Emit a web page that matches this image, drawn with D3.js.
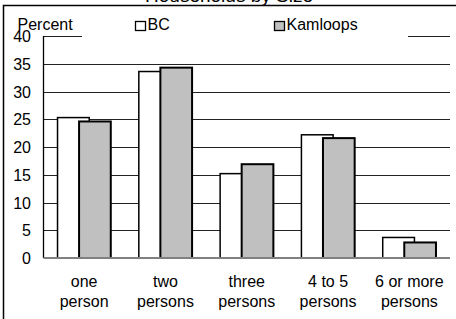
<!DOCTYPE html>
<html>
<head>
<meta charset="utf-8">
<script src="https://cdn.jsdelivr.net/npm/d3@7"></script>
<style>
  body { margin: 0; background: #fff; }
  svg { display: block; font-family: "Liberation Sans", Arial, sans-serif; }
</style>
</head>
<body>
<div id="chart"></div>
<script>
// data
const categories = [["one", "person"], ["two", "persons"], ["three", "persons"], ["4 to 5", "persons"], ["6 or more", "persons"]];
const bcValues = [25.3, 33.6, 15.2, 22.2, 3.7];
const kamloopsValues = [24.6, 34.3, 16.9, 21.6, 2.8];
const yTicks = [0, 5, 10, 15, 20, 25, 30, 35, 40];
const seriesNames = ["BC", "Kamloops"];
const seriesColors = ["#ffffff", "#c0c0c0"];

const w = 456, h = 319;
const plotLeft = 43.5, plotRight = 450, plotTop = 36, plotBottom = 258;

const svg = d3.select("#chart").append("svg")
  .attr("width", w)
  .attr("height", h);

// outer frame, runs past the picture edge
svg.append("rect")
  .attr("x", 3.5).attr("y", 5.5)
  .attr("width", 470).attr("height", 340)
  .attr("fill", "none")
  .attr("stroke", "#000")
  .attr("stroke-width", 1.5);

svg.append("text")
  .attr("x", 229).attr("y", 2)
  .attr("text-anchor", "middle")
  .style("font-size", "19px")
  .text("Households by Size");

const x = d3.scaleBand()
  .domain(d3.range(categories.length))
  .range([plotLeft, plotRight]);

const y = d3.scaleLinear()
  .domain([0, 40])
  .range([plotBottom, plotTop]);

// gridlines
svg.append("g")
  .selectAll("line")
  .data(yTicks.filter(d => d > 0))
  .enter()
  .append("line")
  .attr("x1", plotLeft).attr("x2", plotRight)
  .attr("y1", d => Math.round(y(d)) + 0.5)
  .attr("y2", d => Math.round(y(d)) + 0.5)
  .attr("stroke", "#222")
  .attr("stroke-width", 1);

// y tick labels
svg.append("g")
  .selectAll("text")
  .data(yTicks)
  .enter()
  .append("text")
  .attr("x", 31)
  .attr("y", d => y(d) + 6)
  .attr("text-anchor", "end")
  .style("font-size", "16px")
  .text(d => d);

// bars, Kamloops drawn over BC
const bw = x.bandwidth();
const barW = bw * 0.39;
const shift = bw * 0.265;
const series = [bcValues, kamloopsValues];

series.forEach((vals, s) => {
  svg.append("g")
    .selectAll("rect")
    .data(vals)
    .enter()
    .append("rect")
    .attr("x", (d, i) => x(i) + bw / 2 - (barW + shift) / 2 + s * shift)
    .attr("y", d => y(d))
    .attr("width", barW)
    .attr("height", d => plotBottom - y(d))
    .attr("fill", seriesColors[s])
    .attr("stroke", "#000")
    .attr("stroke-width", s == 0 ? 1.5 : 2);
});

// axis lines
svg.append("line")
  .attr("x1", plotLeft).attr("x2", plotLeft)
  .attr("y1", plotTop).attr("y2", plotBottom)
  .attr("stroke", "#000")
  .attr("stroke-width", 1.3);

svg.append("line")
  .attr("x1", plotLeft).attr("x2", plotRight)
  .attr("y1", plotBottom).attr("y2", plotBottom)
  .attr("stroke", "#808080")
  .attr("stroke-width", 2);

// category labels
const xl = svg.append("g")
  .selectAll("text")
  .data(categories)
  .enter()
  .append("text")
  .attr("text-anchor", "middle")
  .style("font-size", "16px");
xl.append("tspan")
  .attr("x", (d, i) => x(i) + bw / 2)
  .attr("y", 287)
  .text(d => d[0]);
xl.append("tspan")
  .attr("x", (d, i) => x(i) + bw / 2)
  .attr("y", 307)
  .text(d => d[1]);

// legend panel hides the top gridline
svg.append("rect")
  .attr("x", 82).attr("y", 14)
  .attr("width", 326).attr("height", 24)
  .attr("fill", "#fff");

const legendX = [135, 274];
seriesNames.forEach((name, s) => {
  svg.append("rect")
    .attr("x", legendX[s] + 0.5).attr("y", 21.5)
    .attr("width", 10).attr("height", 9)
    .attr("fill", seriesColors[s])
    .attr("stroke", "#000")
    .attr("stroke-width", 1.3);
  svg.append("text")
    .attr("x", legendX[s] + 12.5)
    .attr("y", 30)
    .style("font-size", "16px")
    .text(name);
});

svg.append("text")
  .attr("x", 17.5).attr("y", 30)
  .style("font-size", "16px")
  .text("Percent");
</script>
</body>
</html>
